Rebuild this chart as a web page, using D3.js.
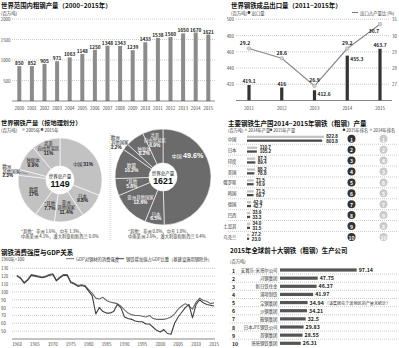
<!DOCTYPE html>
<html><head><meta charset="utf-8">
<script src="https://cdn.jsdelivr.net/npm/d3@7/dist/d3.min.js"></script>
<style>body{margin:0;background:#fff}svg{display:block}text{font-family:"Noto Sans CJK SC","Noto Sans",sans-serif}</style>
</head><body><svg id="c" width="399" height="348"></svg>
<script>
// ---------- DATA ----------
const steelYears = ["2000","2001","2002","2003","2004","2005","2006","2007","2008","2009","2010","2011","2012","2013","2014","2015"];
const steelOutput = [850,852,905,971,1063,1148,1250,1348,1343,1239,1433,1538,1560,1650,1670,1621];
const steelTicks = [500,1000,1500,2000];

const exportYears = ["2011","2012","2013","2014","2015"];
const exportVolume = [419.1,416,412.6,455.3,463.7];
const exportRatio = [29.2,28.6,26.9,29.2,30.7];
const exportTicksL = [420,440,460,480,500];
const exportTicksR = [27,28,29,30,31];

const regions = ["中国","日本","亚洲其他国家","*其他","欧盟","欧洲其他国家","独联体","北美自由贸易区"];
const share2005 = [31,9.8,11.4,7.7,17,2.3,9.9,11];
const share2015 = [49.6,6.5,12.6,5.8,10.2,2.2,6.2,6.9];
const total2005 = 1149, total2015 = 1621;
const names2005 = [["中国"],["日本"],["亚洲","其他国家"],["*其他"],["欧盟"],["欧洲","其他国家"],["独联体"],["北美","自由贸易区"]];
const names2015 = [["中国"],["日本"],["亚洲其他国家"],["*其他"],["欧盟"],["欧洲","其他国家"],["独联体"],["北美","自由贸易区"]];
const note2005 = ["*其他：非洲 1.6%，中东 1.3%，","中南美洲 4.1%，澳大利亚和新西兰 0.8%"];
const note2015 = ["*其他：非洲 0.8%，中东 1.8%，","中南美洲 2.6%，澳大利亚和新西兰 0.4%"];

const countries = ["中国","日本","印度","美国","俄罗斯","韩国","德国","巴西","土耳其","乌克兰"];
const prod2014 = [822.8,110.7,87.3,88.2,71.5,71.5,42.9,33.9,34.0,27.2];
const prod2015 = [803.8,105.2,89.4,78.8,70.9,69.7,42.7,33.3,31.5,23.0];
const rank2015 = [1,2,3,4,5,6,7,8,9,10];
const rank2014 = [1,2,4,3,6,5,7,9,8,10];

const lineYears = [1960,1961,1962,1963,1964,1965,1966,1967,1968,1969,1970,1971,1972,1973,1974,1975,1976,1977,1978,1979,1980,1981,1982,1983,1984,1985,1986,1987,1988,1989,1990,1991,1992,1993,1994,1995,1996,1997,1998,1999,2000,2001,2002,2003,2004,2005,2006,2007,2008,2009,2010,2011,2012,2013,2014,2015];
const intensityGDP = [120,118,112,116,122,121,120,119,120,122,123,115,119,122,122,113,111,108,109,108,103,98,92,91,93,89,87,86,85,82,77,73,71,70,70,69,68,70,66,65,65,65,66,68,72,78,82,85,82,78,87,92,89,88,85,86];
const valueAddedShare = [121,117,111,115,121,120,119,118,119,121,122,114,118,121,121,112,110,107,108,107,101,95,72,80,75,73,73,75,84,80,68,66,65,63,62,62,59,59,55,51,49,52,47,46,60,68,74,80,84,67,84,90,86,84,83,82];
const lineTicks = [50,60,70,80,90,100,110,120,130];
const lineYearTicks = [1960,1965,1970,1975,1980,1985,1990,1995,2000,2005,2010,2015];
const lineNames = ["GDP对钢材的消费强度","钢铁增加值占GDP比重（基建设施用钢除外）"];

const companies = ["安赛乐-米塔尔公司","河钢集团","新日铁住金","浦项制铁","宝钢集团","沙钢集团","鞍钢集团","日本JFE钢铁公司","首钢集团","塔塔钢铁集团"];
const companyOutput = [97.14,47.75,46.37,41.97,34.94,34.21,32.5,29.83,28.55,26.31];
const companyLabels = ["97.14","47.75","46.37","41.97","34.94","34.21","32.5","29.83","28.55","26.31"];

// ---------- HELPERS ----------
const svg = d3.select("#c");
const NUM = "'Liberation Sans',Arial,sans-serif";
function txt(g,x,y,s,o={}){
  const t = g.append("text").attr("x",x).attr("y",y).text(s)
    .attr("font-size",o.size||5).attr("font-weight",o.weight||"normal")
    .attr("fill",o.fill||"#333").attr("text-anchor",o.anchor||"start")
    .attr("dominant-baseline","central");
  if(o.num) t.attr("font-family",NUM);
  return t;
}
// one text element, several lines (tspans)
function mtxt(g,x,y,lines,lh,o={}){
  const t = g.append("text").attr("text-anchor",o.anchor||"start").attr("fill",o.fill||"#333");
  const n = lines.length;
  lines.forEach((l,k)=>{
    const sp = t.append("tspan").attr("x",x).attr("y",y+(k-(n-1)/2)*lh)
      .attr("dominant-baseline","central").attr("font-size",l.size||4.4)
      .attr("font-weight",l.weight||"normal").text(l.s);
    if(l.num) sp.attr("font-family",NUM);
  });
  return t;
}
function dotted(g,x1,x2,y){
  g.append("line").attr("x1",x1).attr("x2",x2).attr("y1",y).attr("y2",y)
   .attr("stroke","#999").attr("stroke-width",0.5).attr("stroke-dasharray","1,1");
}

// ---------- PANEL 1 ----------
(function(){
  const g = svg.append("g");
  txt(g,1,5,"世界范围内粗钢产量（2000~2015年）",{size:6.4,weight:"bold",fill:"#111"});
  txt(g,1,12.5,"(百万吨)",{size:4.4});
  const x = d3.scalePoint().domain(steelYears).range([19.3,208.3]);
  const y = d3.scaleLinear().domain([0,2000]).range([101,19]);
  steelTicks.forEach(t=>{ dotted(g,12,215,y(t)); txt(g,10.5,y(t),String(t),{size:4.4,anchor:"end",fill:"#444",num:1}); });
  g.selectAll("rect.b").data(steelOutput).join("rect")
    .attr("x",(d,i)=>x(steelYears[i])-2).attr("width",4)
    .attr("y",d=>y(d)).attr("height",d=>y(0)-y(d)).attr("fill","#8c8c8c");
  steelOutput.forEach((d,i)=>txt(g,x(steelYears[i]),y(d)-3.5,String(d),{size:4.8,weight:"bold",anchor:"middle",fill:"#222",num:1}));
  g.append("line").attr("x1",12).attr("x2",215).attr("y1",y(0)).attr("y2",y(0)).attr("stroke","#555").attr("stroke-width",0.7);
  steelYears.forEach(s=>txt(g,x(s),107.5,s,{size:4.4,anchor:"middle",fill:"#444",num:1}));
})();

// ---------- PANEL 2 ----------
(function(){
  const g = svg.append("g");
  txt(g,231,5,"世界钢铁成品出口量（2011~2015年）",{size:6.4,weight:"bold",fill:"#111"});
  txt(g,231,12.5,"(百万吨)",{size:4.4});
  g.append("circle").attr("cx",249).attr("cy",12.5).attr("r",1.4).attr("fill","#333");
  txt(g,251.5,12.5,"出口量",{size:4.4});
  g.append("line").attr("x1",352).attr("x2",358).attr("y1",12.5).attr("y2",12.5).attr("stroke","#777").attr("stroke-width",1);
  txt(g,360,12.5,"出口占产量比 (%)",{size:4.4});
  const x = d3.scalePoint().domain(exportYears).range([249,380]);
  const yL = d3.scaleLinear().domain([400,500]).range([100.5,19.3]);
  const yR = d3.scaleLinear().domain([26,31]).range([100.5,19.3]);
  exportTicksL.forEach(t=>{ dotted(g,236,390,yL(t)); txt(g,234,yL(t),String(t),{size:4.4,anchor:"end",fill:"#444",num:1}); });
  exportTicksR.forEach(t=>txt(g,392,yR(t),String(t),{size:4.4,fill:"#444",num:1}));
  g.selectAll("rect").data(exportVolume).join("rect")
    .attr("x",(d,i)=>x(exportYears[i])-1.6).attr("width",3.2)
    .attr("y",d=>yL(d)).attr("height",d=>yL(400)-yL(d)).attr("fill","#333");
  g.append("line").attr("x1",236).attr("x2",392).attr("y1",yL(400)).attr("y2",yL(400)).attr("stroke","#555").attr("stroke-width",0.7);
  const pos = ["top","top","right","right","top"];
  exportVolume.forEach((d,i)=>{
    const cx = x(exportYears[i]);
    if(pos[i]==="top") txt(g,cx,yL(d)-4,String(d),{size:4.9,weight:"bold",anchor:"middle",fill:"#222",num:1});
    else txt(g,cx+3,yL(d)+3,String(d),{size:4.9,weight:"bold",fill:"#222",num:1});
  });
  const line = d3.line().x((d,i)=>x(exportYears[i])).y(d=>yR(d));
  g.append("path").attr("d",line(exportRatio)).attr("fill","none").attr("stroke","#8a8a8a").attr("stroke-width",1.2);
  g.selectAll("circle.p").data(exportRatio).join("circle")
    .attr("cx",(d,i)=>x(exportYears[i])).attr("cy",d=>yR(d)).attr("r",1.8)
    .attr("fill","#d4d4d4").attr("stroke","#999").attr("stroke-width",0.5);
  exportRatio.forEach((d,i)=>{
    const cx = x(exportYears[i]);
    if(i===4) txt(g,cx-6,yR(d)+6,String(d),{size:5,weight:"bold",anchor:"middle",fill:"#222",num:1});
    else txt(g,cx-(i===0?4:0),yR(d)-6,String(d),{size:5,weight:"bold",anchor:"middle",fill:"#222",num:1});
  });
  exportYears.forEach(s=>txt(g,x(s),107.5,s,{size:4.4,anchor:"middle",fill:"#444",num:1}));
})();

// ---------- PANEL 3 (PIES) ----------
(function(){
  const g = svg.append("g");
  txt(g,1,122.5,"世界钢铁产量（按地理划分）",{size:6.2,weight:"bold",fill:"#111"});
  txt(g,1,129.5,"(百万吨)",{size:4.4});
  g.append("circle").attr("cx",23.5).attr("cy",129.5).attr("r",1.4).attr("fill","#c4c4c4");
  txt(g,26,129.5,"2005年",{size:4.4});
  g.append("circle").attr("cx",42).attr("cy",129.5).attr("r",1.4).attr("fill","#555");
  txt(g,44.5,129.5,"2015年",{size:4.4});
  g.append("line").attr("x1",110).attr("x2",110).attr("y1",133).attr("y2",240)
    .attr("stroke","#999").attr("stroke-width",0.5).attr("stroke-dasharray","1,1");

  const pie = d3.pie().sort(null).value(d=>d);
  function drawPie(cx,cy,r,vals,fill,tfill,names,lr,total,chinaAngle){
    const pg = g.append("g").attr("transform",`translate(${cx},${cy})`);
    const arcs = pie(vals);
    const arc = d3.arc().innerRadius(14).outerRadius(r);
    pg.selectAll("path").data(arcs).join("path").attr("d",arc)
      .attr("fill",fill).attr("stroke","#fff").attr("stroke-width",0.6);
    mtxt(pg,0,0,[{s:"世界总产量",size:4.5},{s:String(total),size:8.8,weight:"bold",num:1}],7.2,{anchor:"middle",fill:"#111"});
    arcs.forEach((a,i)=>{
      let ang = (a.startAngle+a.endAngle)/2;
      const pct = vals[i]+"%";
      if(lr[i]===null){
        const R = r+8;
        const px = Math.sin(ang)*R, py = -Math.cos(ang)*R;
        const lines = names[i].map(s=>({s,size:4.4})).concat([{s:pct,size:4.7,weight:"bold",num:1}]);
        mtxt(pg,px-8.5,py,lines,5.2,{fill:"#222"});
        pg.append("line").attr("x1",Math.sin(ang)*(r+1)).attr("y1",-Math.cos(ang)*(r+1))
          .attr("x2",Math.sin(ang)*(r-9)).attr("y2",-Math.cos(ang)*(r-9)).attr("stroke","#444").attr("stroke-width",0.4);
        return;
      }
      if(i===0 && chinaAngle!==null) ang = chinaAngle;
      const px = Math.sin(ang)*lr[i], py = -Math.cos(ang)*lr[i];
      if(i===0){
        const t = pg.append("text").attr("x",px).attr("y",py).attr("text-anchor","middle")
          .attr("dominant-baseline","central").attr("fill",tfill);
        t.append("tspan").attr("font-size",chinaAngle!==null?5:4.6).text("中国 ");
        t.append("tspan").attr("font-size",chinaAngle!==null?7.2:4.9).attr("font-weight","bold").attr("font-family",NUM).text(pct);
        return;
      }
      const lines = names[i].map(s=>({s,size:4.4})).concat([{s:pct,size:4.9,weight:"bold",num:1}]);
      mtxt(pg,px,py,lines,5.2,{anchor:"middle",fill:tfill});
    });
  }
  drawPie(60,180,42,share2005,"#c2c2c2","#222",names2005,[28,29,28,28,29,null,32,34],total2005,null);
  drawPie(163,177,48,share2015,"#6b6b6b","#fff",names2015,[33,40,32,32,33,null,32,38],total2015,0.84);
  mtxt(g,21,233.4,note2005.map(s=>({s,size:4.3})),5.8,{fill:"#333"});
  mtxt(g,128,233.4,note2015.map(s=>({s,size:4.3})),5.8,{fill:"#333"});
})();

// ---------- PANEL 4 (COUNTRIES) ----------
(function(){
  const g = svg.append("g");
  txt(g,228,123,"主要钢铁生产国2014~2015年钢铁（粗钢）产量",{size:6.5,weight:"bold",fill:"#111"});
  txt(g,228,129.8,"(百万吨)",{size:4.2});
  g.append("circle").attr("cx",246).attr("cy",129.8).attr("r",1.3).attr("fill","#c4c4c4");
  txt(g,248.3,129.8,"2014年产量",{size:4.2});
  g.append("circle").attr("cx",271).attr("cy",129.8).attr("r",1.3).attr("fill","#444");
  txt(g,273.3,129.8,"2015年产量",{size:4.2});
  g.append("circle").attr("cx",344).attr("cy",129.8).attr("r",1.3).attr("fill","#333");
  txt(g,346.3,129.8,"2015年排名",{size:4.2});
  g.append("circle").attr("cx",371).attr("cy",129.8).attr("r",1.3).attr("fill","#c4c4c4");
  txt(g,373.3,129.8,"2014年排名",{size:4.2});
  const y = d3.scalePoint().domain(countries).range([138.8,236.9]);
  const x = d3.scaleLinear().domain([0,822.8]).range([247,324]);
  countries.forEach((c,i)=>{
    const cy = y(c);
    if(i<countries.length-1) dotted(g,228,398,cy+5.45);
    txt(g,236.5,cy,c,{size:4.4,anchor:"end",fill:"#333"});
    g.append("rect").attr("x",x(0)).attr("y",cy-3.1).attr("width",x(prod2014[i])-x(0)).attr("height",2.3).attr("fill","#c4c4c4");
    g.append("rect").attr("x",x(0)).attr("y",cy+0.7).attr("width",x(prod2015[i])-x(0)).attr("height",2.3).attr("fill","#4a4a4a");
    const lx = x(Math.max(prod2014[i],prod2015[i]))+2.3;
    mtxt(g,lx,cy,[{s:prod2014[i].toFixed(1),size:4.6,weight:"bold",num:1},{s:prod2015[i].toFixed(1),size:4.6,weight:"bold",num:1}],4.4,{fill:"#222"});
    g.append("circle").attr("cx",351.5).attr("cy",cy).attr("r",4).attr("fill","#333");
    txt(g,351.5,cy+0.2,String(rank2015[i]),{size:5,weight:"bold",anchor:"middle",fill:"#fff",num:1});
    g.append("circle").attr("cx",383.5).attr("cy",cy).attr("r",4).attr("fill","#cacaca");
    txt(g,383.5,cy+0.2,String(rank2014[i]),{size:5,weight:"bold",anchor:"middle",fill:"#fff",num:1});
  });
})();

// ---------- PANEL 5 (LINES) ----------
(function(){
  const g = svg.append("g");
  txt(g,1,252,"钢铁消费强度与GDP关系",{size:6.5,weight:"bold",fill:"#111"});
  txt(g,1,258.7,"1960年=100",{size:4.3});
  const colors = ["#6a6a6a","#3f3f3f"];
  g.append("line").attr("x1",66).attr("x2",74).attr("y1",258.7).attr("y2",258.7).attr("stroke",colors[0]).attr("stroke-width",1);
  txt(g,76,258.7,lineNames[0],{size:4.3});
  g.append("line").attr("x1",116).attr("x2",124).attr("y1",258.7).attr("y2",258.7).attr("stroke",colors[1]).attr("stroke-width",1);
  txt(g,126,258.7,lineNames[1],{size:4.3});
  const x = d3.scaleLinear().domain([1960,2015]).range([17,214]);
  const y = d3.scaleLinear().domain([40,130]).range([339,268.3]);
  lineTicks.forEach(t=>{ dotted(g,12,215,y(t)); txt(g,1,y(t),String(t),{size:4.4,fill:"#444",num:1}); });
  g.append("line").attr("x1",12).attr("x2",215).attr("y1",y(40)).attr("y2",y(40)).attr("stroke","#555").attr("stroke-width",0.7);
  lineYearTicks.forEach(t=>txt(g,x(t),344,String(t),{size:4.4,anchor:"middle",fill:"#444",num:1}));
  const line = d3.line().x((d,i)=>x(lineYears[i])).y(d=>y(d));
  [intensityGDP,valueAddedShare].forEach((s,k)=>{
    g.append("path").attr("d",line(s)).attr("fill","none").attr("stroke",colors[k]).attr("stroke-width",1.1).attr("stroke-linejoin","round");
  });
})();

// ---------- PANEL 6 (COMPANIES) ----------
(function(){
  const g = svg.append("g");
  txt(g,230,250,"2015年全球前十大钢铁（粗钢）生产公司",{size:6.4,weight:"bold",fill:"#111"});
  txt(g,230,261,"(百万吨)",{size:4.3});
  const y = d3.scalePoint().domain(companies).range([270,343.3]);
  const x = d3.scaleLinear().domain([0,97.14]).range([280,356.7]);
  companies.forEach((c,i)=>{
    const cy = y(c);
    if(i<companies.length-1) dotted(g,230,398,cy+4.07);
    txt(g,232,cy,String(i+1),{size:5.2,weight:"bold",fill:"#222",num:1});
    txt(g,277.5,cy,c,{size:4.4,anchor:"end",fill:"#333"});
    g.append("rect").attr("x",x(0)).attr("y",cy-1.6).attr("width",x(companyOutput[i])-x(0)).attr("height",3.2).attr("fill","#555");
    const t = txt(g,x(companyOutput[i])+2,cy,companyLabels[i],{size:5.3,weight:"bold",fill:"#222",num:1});
    if(i===4){
      const w = t.node().getComputedTextLength();
      txt(g,x(companyOutput[i])+2+w+1,cy,"（该集团在宁波地区的产量未统计）",{size:4.1,fill:"#333"});
    }
  });
})();
</script></body></html>
